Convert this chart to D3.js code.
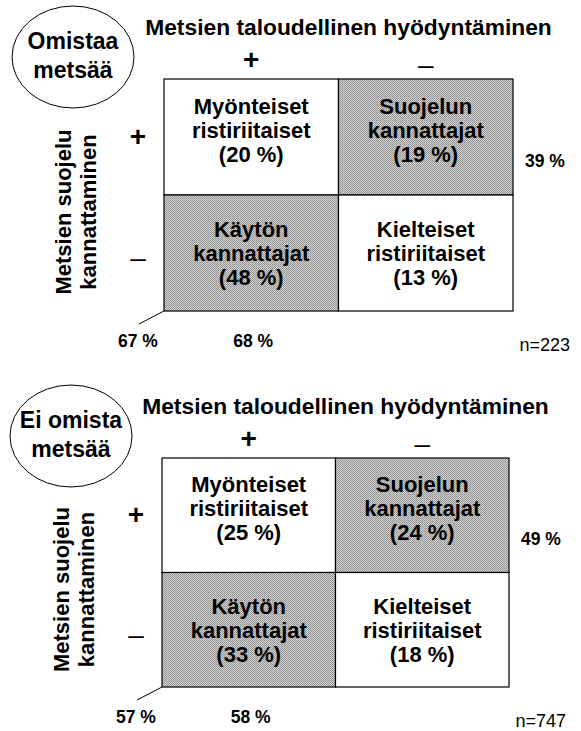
<!DOCTYPE html>
<html><head><meta charset="utf-8">
<script src="https://cdn.jsdelivr.net/npm/d3@7"></script>
<style>
body{margin:0;background:#fff}
svg{display:block}
text{font-family:"Liberation Sans",Arial,Helvetica,sans-serif;fill:#000}
</style>
</head><body>
<svg id="chart" width="581" height="731"></svg>
<script>
// ---- data ----
const groupLabels = [["Omistaa", "metsää"], ["Ei omista", "metsää"]];
const xAxisTitle = "Metsien taloudellinen hyödyntäminen";
const yAxisTitle = ["Metsien suojelu", "kannattaminen"];
const colKeys = ["+", "–"];
const rowKeys = ["+", "–"];
const cellNames = [["Myönteiset", "ristiriitaiset"], ["Suojelun", "kannattajat"], ["Käytön", "kannattajat"], ["Kielteiset", "ristiriitaiset"]];
const cellCols = ["+", "–", "+", "–"];
const cellRows = ["+", "+", "–", "–"];
const cellShaded = [false, true, true, false];
const ownersShares = [20, 19, 48, 13];
const nonOwnersShares = [25, 24, 33, 18];
const rowTotals = [39, 49];
const colTotals = [68, 58];
const cornerTotals = [67, 57];
const sampleSizes = [223, 747];

const groupShares = [ownersShares, nonOwnersShares];
const panels = [
  {x0: 164, x1: 513, y0: 79, y1: 311},
  {x0: 162, x1: 509, y0: 458, y1: 687}
];

const svg = d3.select("#chart");
const defs = svg.append("defs");
const pat = defs.append("pattern").attr("id", "dither")
  .attr("patternUnits", "userSpaceOnUse").attr("width", 2).attr("height", 2);
pat.append("rect").attr("width", 2).attr("height", 2).attr("fill", "#d2d2d2");
pat.append("rect").attr("width", 1).attr("height", 1).attr("fill", "#8c8c8c");
pat.append("rect").attr("x", 1).attr("y", 1).attr("width", 1).attr("height", 1).attr("fill", "#9c9c9c");

panels.forEach((p, gi) => {
  const g = svg.append("g");
  const x = d3.scaleBand().domain(colKeys).range([p.x0, p.x1]);
  const y = d3.scaleBand().domain(rowKeys).range([p.y0, p.y1]);
  const bw = x.bandwidth(), bh = y.bandwidth();
  const cx = (p.x0 + p.x1) / 2;

  // group ellipse
  const ecx = p.x0 - 91, ecy = p.y0 - 22;
  g.append("ellipse").attr("cx", ecx).attr("cy", ecy).attr("rx", 61).attr("ry", 51)
    .attr("fill", "none").attr("stroke", "#000").attr("stroke-width", 1);
  groupLabels[gi].forEach((t, i) => {
    g.append("text").attr("x", ecx).attr("y", ecy - 8 + i * 29)
      .attr("text-anchor", "middle").attr("font-size", 23).attr("font-weight", "bold").text(t);
  });

  // x axis title
  g.append("text").attr("x", cx + 10).attr("y", p.y0 - 44)
    .attr("text-anchor", "middle").attr("font-size", 22.8).attr("font-weight", "bold")
    .text(xAxisTitle);

  // column keys
  colKeys.forEach((k, i) => {
    g.append("text").attr("x", x(k) + bw / 2).attr("y", p.y0 - (i === 0 ? 10 : 5))
      .attr("text-anchor", "middle").attr("font-size", 28)
      .attr("font-weight", i === 0 ? "bold" : "normal").text(k);
  });

  // row keys
  rowKeys.forEach((k, i) => {
    g.append("text").attr("x", p.x0 - 26).attr("y", y(k) + bh / 2 + (i === 0 ? 9 : 14))
      .attr("text-anchor", "middle").attr("font-size", 28)
      .attr("font-weight", i === 0 ? "bold" : "normal").text(k);
  });

  // y axis title
  const ymid = (p.y0 + p.y1) / 2 + 17;
  yAxisTitle.forEach((t, i) => {
    const tx = p.x0 - 93 + i * 25;
    g.append("text").attr("transform", `translate(${tx},${ymid}) rotate(-90)`)
      .attr("text-anchor", "middle").attr("font-size", 22).attr("font-weight", "bold").text(t);
  });

  // cells
  const shares = groupShares[gi];
  shares.forEach((v, ci) => {
    const rx = x(cellCols[ci]), ry = y(cellRows[ci]);
    g.append("rect").attr("x", rx).attr("y", ry).attr("width", bw).attr("height", bh)
      .attr("fill", cellShaded[ci] ? "url(#dither)" : "#fff")
      .attr("stroke", "#000").attr("stroke-width", 1.2);
    const lines = [cellNames[ci][0], cellNames[ci][1], `(${v} %)`];
    const base = ry + bh / 2 + (cellRows[ci] === "+" ? 1 : 8);
    lines.forEach((t, li) => {
      g.append("text").attr("x", rx + bw / 2).attr("y", base + (li - 1) * 24)
        .attr("text-anchor", "middle").attr("font-size", 22).attr("font-weight", "bold").text(t);
    });
  });

  // corner diagonal and totals
  g.append("line").attr("x1", p.x0).attr("y1", p.y1).attr("x2", p.x0 - 25).attr("y2", p.y1 + 13)
    .attr("stroke", "#000").attr("stroke-width", 1);
  g.append("text").attr("x", p.x0 - 26).attr("y", p.y1 + 36)
    .attr("text-anchor", "middle").attr("font-size", 17.5).attr("font-weight", "bold")
    .text(`${cornerTotals[gi]} %`);
  g.append("text").attr("x", x("+") + bw / 2 + 2).attr("y", p.y1 + 36)
    .attr("text-anchor", "middle").attr("font-size", 17.5).attr("font-weight", "bold")
    .text(`${colTotals[gi]} %`);
  g.append("text").attr("x", p.x1 + 32).attr("y", y("+") + bh / 2 + 30)
    .attr("text-anchor", "middle").attr("font-size", 17.5).attr("font-weight", "bold")
    .text(`${rowTotals[gi]} %`);
  g.append("text").attr("x", p.x1 + 57).attr("y", p.y1 + 40)
    .attr("text-anchor", "end").attr("font-size", 18)
    .text(`n=${sampleSizes[gi]}`);
});
</script>
</body></html>
